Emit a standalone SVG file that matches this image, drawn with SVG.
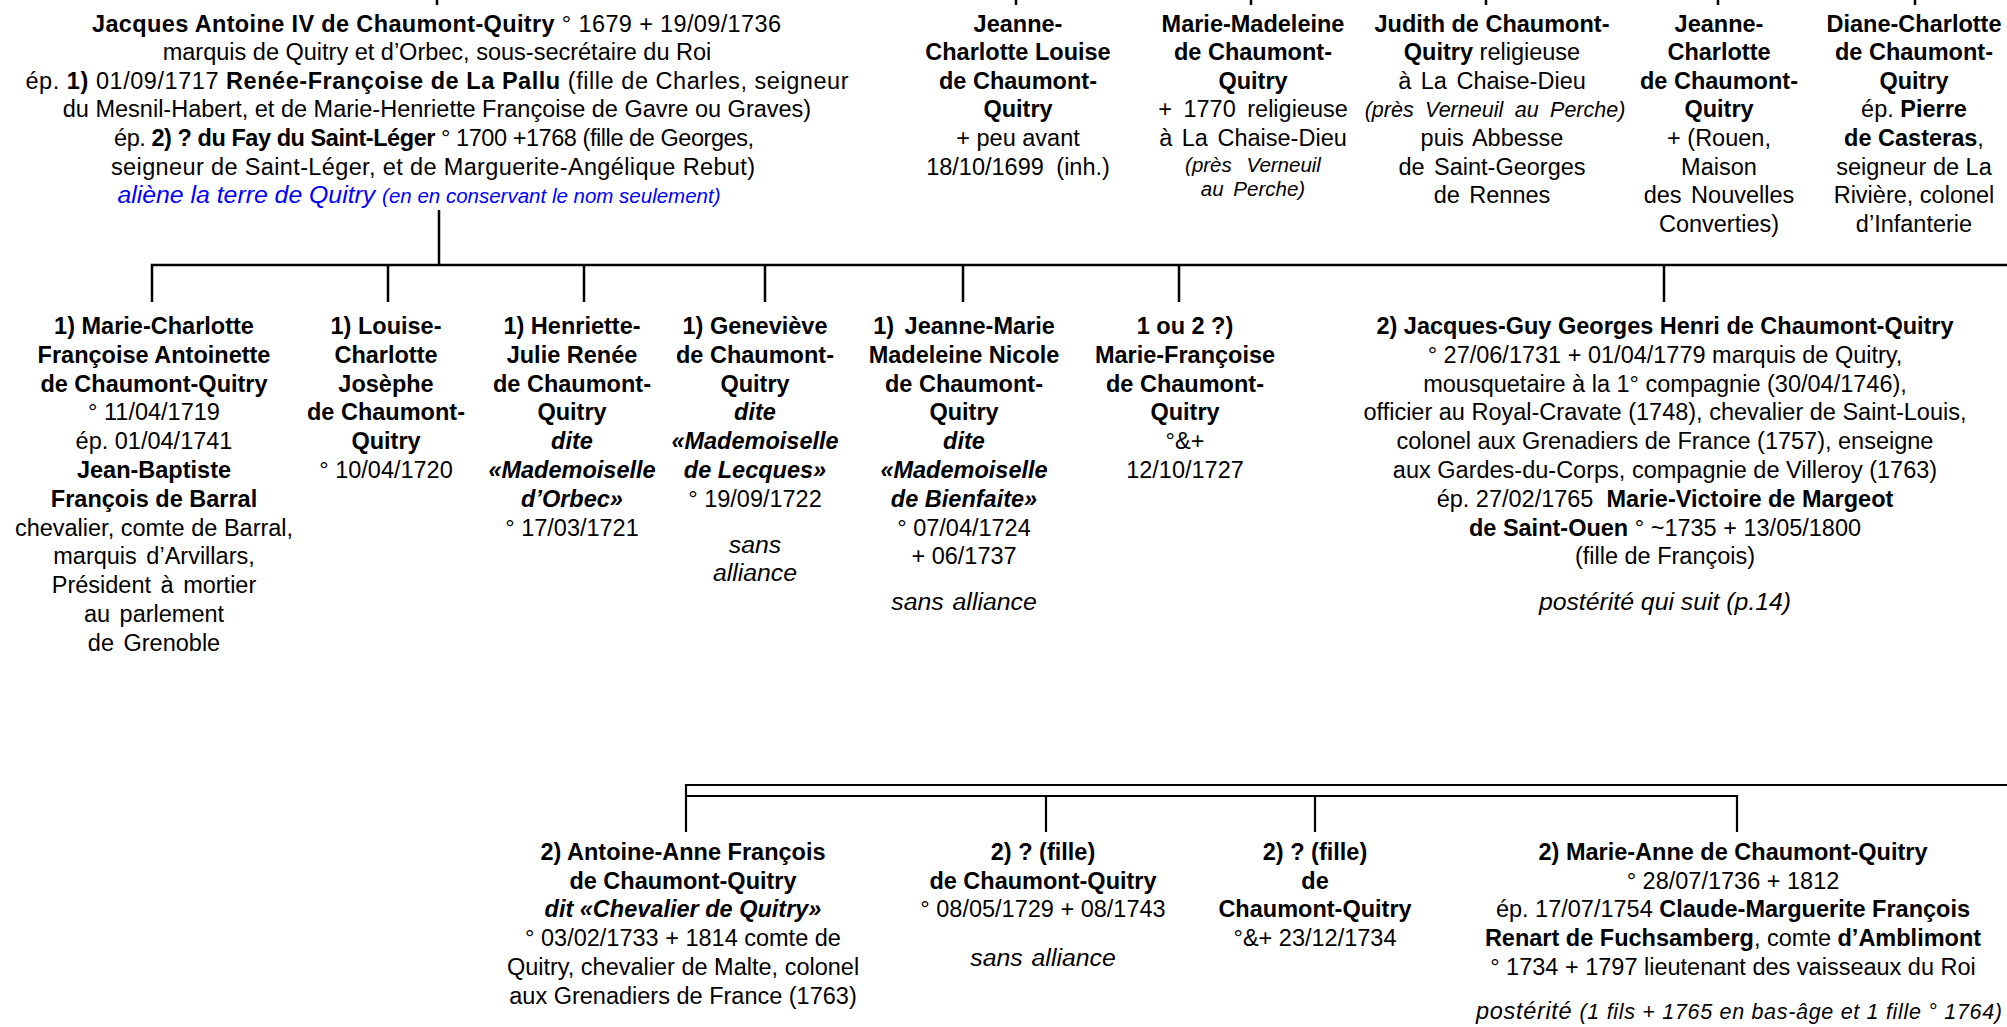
<svg xmlns="http://www.w3.org/2000/svg" width="2007" height="1027" viewBox="0 0 2007 1027">
<style>
text { font-family: "Liberation Sans", Arial, sans-serif; font-size: 23.5px; fill: #000; text-anchor: middle; }
.b { font-weight: bold; }
.i { font-style: italic; }
.it { font-style: italic; font-size: 24.8px; }
.s { font-size: 20.5px; }
.blue { fill: #0000ff; }
.ln { stroke: #000; stroke-width: 2.5; fill: none; }
.ln2 { stroke: #000; stroke-width: 2.2; fill: none; }
</style>
<rect width="2007" height="1027" fill="#fff"/>
<g id="connectors">
  <path class="ln" d="M437,0V5M1016,0V5M1251,0V5M1486,0V5M1718,0V5M1915,0V5"/>
  <path class="ln" d="M439,210V265M152,302V265H2007M388,265V302M584,265V302M765,265V302M963,265V302M1179,265V302M1664,265V302"/>
  <path class="ln2" d="M686,832V785H2007M686,796H1737V832M1046,796V832M1315,796V832"/>
</g>
<g id="parent">
  <text x="436.5" y="31.5" textLength="689"><tspan class="b">Jacques Antoine IV de Chaumont-Quitry</tspan> ° 1679 + 19/09/1736</text>
  <text x="437" y="60.1">marquis de Quitry et d’Orbec, sous-secrétaire du Roi</text>
  <text x="437" y="88.7" textLength="823">ép. <tspan class="b">1)</tspan> 01/09/1717 <tspan class="b">Renée-Françoise de La Pallu</tspan> (fille de Charles, seigneur</text>
  <text x="437" y="117.3">du Mesnil-Habert, et de Marie-Henriette Françoise de Gavre ou Graves)</text>
  <text x="434" y="145.9" textLength="640">ép. <tspan class="b">2) ? du Fay du Saint-Léger</tspan> ° 1700 +1768 (fille de Georges,</text>
  <text x="433" y="174.5" textLength="644">seigneur de Saint-Léger, et de Marguerite-Angélique Rebut)</text>
  <text x="419" y="203.1" class="i blue" style="font-size:24.8px">aliène la terre de Quitry <tspan style="font-size:20.5px">(en en conservant le nom seulement)</tspan></text>
</g>
<g id="t1">
  <text x="1018" y="31.5" class="b">Jeanne-</text>
  <text x="1018" y="60.1" class="b">Charlotte Louise</text>
  <text x="1018" y="88.7" class="b">de Chaumont-</text>
  <text x="1018" y="117.3" class="b">Quitry</text>
  <text x="1018" y="145.9">+ peu avant</text>
  <text x="1018" y="174.5" word-spacing="6">18/10/1699 (inh.)</text>
</g>
<g id="t2">
  <text x="1253" y="31.5" class="b">Marie-Madeleine</text>
  <text x="1253" y="60.1" class="b">de Chaumont-</text>
  <text x="1253" y="88.7" class="b">Quitry</text>
  <text x="1253" y="117.3" word-spacing="5">+ 1770 religieuse</text>
  <text x="1253" y="145.9" word-spacing="3">à La Chaise-Dieu</text>
  <text x="1253" y="172" class="i s" word-spacing="9">(près Verneuil</text>
  <text x="1253" y="196" class="i s" word-spacing="4">au Perche)</text>
</g>
<g id="t3">
  <text x="1492" y="31.5" class="b">Judith de Chaumont-</text>
  <text x="1492" y="60.1"><tspan class="b">Quitry</tspan> religieuse</text>
  <text x="1492" y="88.7" word-spacing="3">à La Chaise-Dieu</text>
  <text x="1495" y="117.3" class="i" style="font-size:21.5px" word-spacing="5.5">(près Verneuil au Perche)</text>
  <text x="1492" y="145.9" word-spacing="3">puis Abbesse</text>
  <text x="1492" y="174.5" word-spacing="3">de Saint-Georges</text>
  <text x="1492" y="203.1" word-spacing="3">de Rennes</text>
</g>
<g id="t4">
  <text x="1719" y="31.5" class="b">Jeanne-</text>
  <text x="1719" y="60.1" class="b">Charlotte</text>
  <text x="1719" y="88.7" class="b">de Chaumont-</text>
  <text x="1719" y="117.3" class="b">Quitry</text>
  <text x="1719" y="145.9">+ (Rouen,</text>
  <text x="1719" y="174.5">Maison</text>
  <text x="1719" y="203.1" word-spacing="3">des Nouvelles</text>
  <text x="1719" y="231.7">Converties)</text>
</g>
<g id="t5">
  <text x="1914" y="31.5" class="b">Diane-Charlotte</text>
  <text x="1914" y="60.1" class="b">de Chaumont-</text>
  <text x="1914" y="88.7" class="b">Quitry</text>
  <text x="1914" y="117.3">ép. <tspan class="b">Pierre</tspan></text>
  <text x="1914" y="145.9"><tspan class="b">de Casteras</tspan>,</text>
  <text x="1914" y="174.5">seigneur de La</text>
  <text x="1914" y="203.1">Rivière, colonel</text>
  <text x="1914" y="231.7">d’Infanterie</text>
</g>
<g id="c1">
  <text x="154" y="334" class="b">1) Marie-Charlotte</text>
  <text x="154" y="362.8" class="b">Françoise Antoinette</text>
  <text x="154" y="391.6" class="b">de Chaumont-Quitry</text>
  <text x="154" y="420.4">° 11/04/1719</text>
  <text x="154" y="449.2">ép. 01/04/1741</text>
  <text x="154" y="478" class="b">Jean-Baptiste</text>
  <text x="154" y="506.8" class="b">François de Barral</text>
  <text x="154" y="535.6">chevalier, comte de Barral,</text>
  <text x="154" y="564.4" word-spacing="3">marquis d’Arvillars,</text>
  <text x="154" y="593.2" word-spacing="3">Président à mortier</text>
  <text x="154" y="622" word-spacing="3">au parlement</text>
  <text x="154" y="650.8" word-spacing="3">de Grenoble</text>
</g>
<g id="c2">
  <text x="386" y="334" class="b">1) Louise-</text>
  <text x="386" y="362.8" class="b">Charlotte</text>
  <text x="386" y="391.6" class="b">Josèphe</text>
  <text x="386" y="420.4" class="b">de Chaumont-</text>
  <text x="386" y="449.2" class="b">Quitry</text>
  <text x="386" y="478">° 10/04/1720</text>
</g>
<g id="c3">
  <text x="572" y="334" class="b">1) Henriette-</text>
  <text x="572" y="362.8" class="b">Julie Renée</text>
  <text x="572" y="391.6" class="b">de Chaumont-</text>
  <text x="572" y="420.4" class="b">Quitry</text>
  <text x="572" y="449.2" class="b i">dite</text>
  <text x="572" y="478" class="b i">«Mademoiselle</text>
  <text x="572" y="506.8" class="b i">d’Orbec»</text>
  <text x="572" y="535.6">° 17/03/1721</text>
</g>
<g id="c4">
  <text x="755" y="334" class="b">1) Geneviève</text>
  <text x="755" y="362.8" class="b">de Chaumont-</text>
  <text x="755" y="391.6" class="b">Quitry</text>
  <text x="755" y="420.4" class="b i">dite</text>
  <text x="755" y="449.2" class="b i">«Mademoiselle</text>
  <text x="755" y="478" class="b i">de Lecques»</text>
  <text x="755" y="506.8">° 19/09/1722</text>
  <text x="755" y="553" class="it">sans</text>
  <text x="755" y="581" class="it">alliance</text>
</g>
<g id="c5">
  <text x="964" y="334" class="b" word-spacing="4">1) Jeanne-Marie</text>
  <text x="964" y="362.8" class="b">Madeleine Nicole</text>
  <text x="964" y="391.6" class="b">de Chaumont-</text>
  <text x="964" y="420.4" class="b">Quitry</text>
  <text x="964" y="449.2" class="b i">dite</text>
  <text x="964" y="478" class="b i">«Mademoiselle</text>
  <text x="964" y="506.8" class="b i">de Bienfaite»</text>
  <text x="964" y="535.6">° 07/04/1724</text>
  <text x="964" y="564.4">+ 06/1737</text>
  <text x="964" y="610" class="it" word-spacing="2">sans alliance</text>
</g>
<g id="c6">
  <text x="1185" y="334" class="b">1 ou 2 ?)</text>
  <text x="1185" y="362.8" class="b">Marie-Françoise</text>
  <text x="1185" y="391.6" class="b">de Chaumont-</text>
  <text x="1185" y="420.4" class="b">Quitry</text>
  <text x="1185" y="449.2">°&amp;+</text>
  <text x="1185" y="478">12/10/1727</text>
</g>
<g id="c7">
  <text x="1665" y="334" class="b">2) Jacques-Guy Georges Henri de Chaumont-Quitry</text>
  <text x="1665" y="362.8">° 27/06/1731 + 01/04/1779 marquis de Quitry,</text>
  <text x="1665" y="391.6">mousquetaire à la 1° compagnie (30/04/1746),</text>
  <text x="1665" y="420.4">officier au Royal-Cravate (1748), chevalier de Saint-Louis,</text>
  <text x="1665" y="449.2">colonel aux Grenadiers de France (1757), enseigne</text>
  <text x="1665" y="478">aux Gardes-du-Corps, compagnie de Villeroy (1763)</text>
  <text x="1665" y="506.8">ép. 27/02/1765&#160; <tspan class="b">Marie-Victoire de Margeot</tspan></text>
  <text x="1665" y="535.6"><tspan class="b">de Saint-Ouen</tspan> ° ~1735 + 13/05/1800</text>
  <text x="1665" y="564.4">(fille de François)</text>
  <text x="1665" y="610" class="it">postérité qui suit (p.14)</text>
</g>
<g id="b1">
  <text x="683" y="860" class="b">2) Antoine-Anne François</text>
  <text x="683" y="888.7" class="b">de Chaumont-Quitry</text>
  <text x="683" y="917.4" class="b i">dit «Chevalier de Quitry»</text>
  <text x="683" y="946.1">° 03/02/1733 + 1814 comte de</text>
  <text x="683" y="974.8">Quitry, chevalier de Malte, colonel</text>
  <text x="683" y="1003.5">aux Grenadiers de France (1763)</text>
</g>
<g id="b2">
  <text x="1043" y="860" class="b">2) ? (fille)</text>
  <text x="1043" y="888.7" class="b">de Chaumont-Quitry</text>
  <text x="1043" y="917.4">° 08/05/1729 + 08/1743</text>
  <text x="1043" y="966" class="it" word-spacing="2">sans alliance</text>
</g>
<g id="b3">
  <text x="1315" y="860" class="b">2) ? (fille)</text>
  <text x="1315" y="888.7" class="b">de</text>
  <text x="1315" y="917.4" class="b">Chaumont-Quitry</text>
  <text x="1315" y="946.1">°&amp;+ 23/12/1734</text>
</g>
<g id="b4">
  <text x="1733" y="860" class="b">2) Marie-Anne de Chaumont-Quitry</text>
  <text x="1733" y="888.7">° 28/07/1736 + 1812</text>
  <text x="1733" y="917.4">ép. 17/07/1754 <tspan class="b">Claude-Marguerite François</tspan></text>
  <text x="1733" y="946.1"><tspan class="b">Renart de Fuchsamberg</tspan>, comte <tspan class="b">d’Amblimont</tspan></text>
  <text x="1733" y="974.8">° 1734 + 1797 lieutenant des vaisseaux du Roi</text>
  <text x="1739" y="1019" class="i" textLength="526">postérité <tspan style="font-size:21.5px">(1 fils + 1765 en bas-âge et 1 fille ° 1764)</tspan></text>
</g>
</svg>
